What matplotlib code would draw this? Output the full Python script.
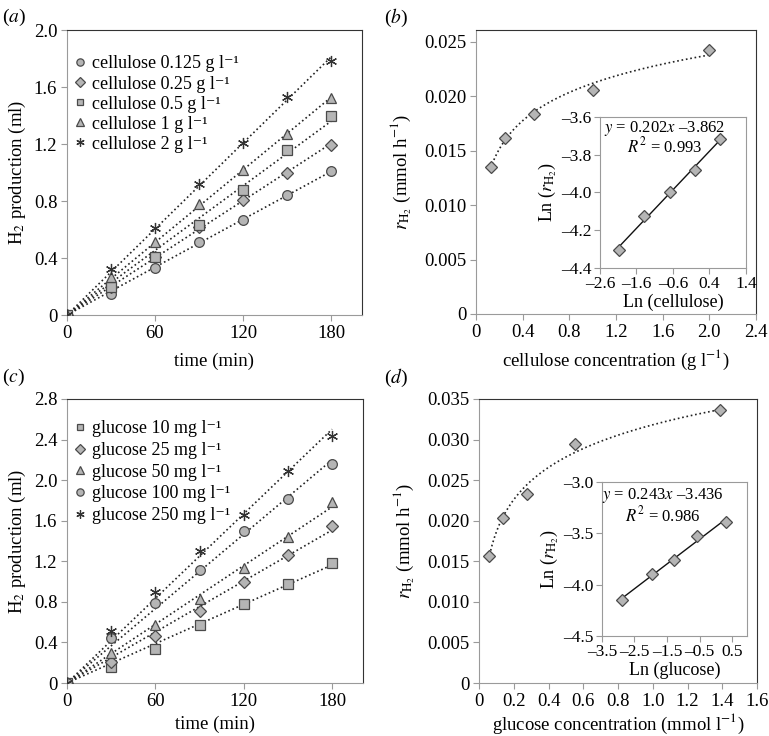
import numpy as np
import matplotlib
matplotlib.use("Agg")
import matplotlib.pyplot as plt
from matplotlib.ticker import FuncFormatter

plt.rcParams['font.family'] = ['Liberation Serif', 'DejaVu Serif']
plt.rcParams['mathtext.fontset'] = 'stix'
plt.rcParams['font.size'] = 13.5

# --- data ---
time_min = [0, 30, 60, 90, 120, 150, 180]

cellulose_labels = ['cellulose 0.125 g l\u207b\u00b9', 'cellulose 0.25 g l\u207b\u00b9',
                    'cellulose 0.5 g l\u207b\u00b9', 'cellulose 1 g l\u207b\u00b9',
                    'cellulose 2 g l\u207b\u00b9']
cel_0125 = [0, 0.15, 0.33, 0.51, 0.67, 0.84, 1.01]
cel_025 = [0, 0.20, 0.41, 0.62, 0.81, 1.00, 1.19]
cel_05 = [0, 0.20, 0.41, 0.63, 0.88, 1.16, 1.40]
cel_1 = [0, 0.27, 0.51, 0.78, 1.02, 1.27, 1.52]
cel_2 = [0, 0.32, 0.61, 0.92, 1.21, 1.53, 1.78]

glucose_labels = ['glucose 10 mg l\u207b\u00b9', 'glucose 25 mg l\u207b\u00b9',
                  'glucose 50 mg l\u207b\u00b9', 'glucose 100 mg l\u207b\u00b9',
                  'glucose 250 mg l\u207b\u00b9']
glu_10 = [0, 0.16, 0.34, 0.57, 0.78, 0.98, 1.18]
glu_25 = [0, 0.21, 0.46, 0.71, 1.00, 1.26, 1.55]
glu_50 = [0, 0.30, 0.57, 0.83, 1.13, 1.44, 1.78]
glu_100 = [0, 0.44, 0.79, 1.11, 1.50, 1.81, 2.16]
glu_250 = [0, 0.51, 0.90, 1.30, 1.66, 2.09, 2.44]

cellulose_conc = [0.125, 0.25, 0.5, 1.0, 2.0]          # g/l
cellulose_rate = [0.0135, 0.0162, 0.0184, 0.0206, 0.0243]  # mmol/h
cellulose_eq = ['$y$ = 0.202$x$ \u20133.862', '$R^2$ = 0.993']

glucose_conc = [0.0555, 0.139, 0.278, 0.555, 1.388]     # mmol/l
glucose_rate = [0.0157, 0.0203, 0.0233, 0.0295, 0.0336]
glucose_eq = ['$y$ = 0.243$x$ \u20133.436', '$R^2$ = 0.986']

FILL = '#b5b5b5'
EDGE = '#4a4a4a'


def style_axes(ax, inset=False):
    for side in ['left', 'bottom']:
        ax.spines[side].set_color('#9a9a9a')
    for side in ['top', 'right']:
        ax.spines[side].set_color('#9a9a9a' if inset else '#333333')
    ax.tick_params(direction='out', length=4, color='#9a9a9a', width=0.8, pad=3)
    if inset:
        ax.tick_params(labelsize=12.5, pad=2)


def zero_fmt(fmt):
    return FuncFormatter(lambda v, p: '0' if abs(v) < 1e-12 else (fmt % v).replace('-', '\u2013'))


def plot_time_course(ax, series, labels, markers, ylim, yticks, xpad):
    t = np.array(time_min)
    sizes = {'o': 7, 'D': 6.3, 's': 6.5, '^': 7.5}
    for y, lab, m in zip(series, labels, markers):
        y = np.array(y)
        slope = np.sum(t * y) / np.sum(t * t)
        ax.plot([0, 180], [0, slope * 180], ls=':', color='#222222', lw=1.2, zorder=1)
        if m == 'star':
            ax.plot(t, y, ls='none', marker=(6, 2, 0), ms=8, mew=0.9, color='#333333',
                    label=lab, zorder=3)
        else:
            ax.plot(t, y, ls='none', marker=m, ms=sizes[m], mfc=FILL,
                    mec=EDGE, mew=0.9, label=lab, zorder=3)
    ax.set_xlim(0, 201)
    ax.set_ylim(*ylim)
    ax.set_xticks([0, 60, 120, 180])
    ax.set_yticks(yticks)
    ax.yaxis.set_major_formatter(zero_fmt('%.1f'))
    ax.set_xlabel('time (min)', labelpad=xpad)
    ax.set_ylabel('H$_2$ production (ml)', labelpad=4)
    style_axes(ax)


def plot_rate(ax, conc, rate, xlim, xticks, ylim, yticks, xlabel, xpad):
    # logarithmic trend line  y = a ln(x) + b
    a, b = np.polyfit(np.log(conc), rate, 1)
    xs = np.linspace(conc[0], conc[-1], 200)
    ax.plot(xs, a * np.log(xs) + b, ls=':', color='#222222', lw=1.2, zorder=1)
    ax.plot(conc, rate, ls='none', marker='D', ms=6.5, mfc=FILL, mec=EDGE, mew=0.9, zorder=3)
    ax.set_xlim(*xlim)
    ax.set_ylim(*ylim)
    ax.set_xticks(xticks)
    ax.set_yticks(yticks)
    ax.xaxis.set_major_formatter(zero_fmt('%.1f'))
    ax.yaxis.set_major_formatter(zero_fmt('%.3f'))
    ax.set_xlabel(xlabel, labelpad=xpad)
    ax.set_ylabel(r'$r_{\mathrm{H}_2}$ (mmol h$^{-1}$)', labelpad=7)
    style_axes(ax)


def plot_inset(ax, conc, rate, eq, xlim, xticks, ylim, yticks, xlabel, txt_pos):
    lx = np.log(conc)
    ly = np.log(rate)
    a, b = np.polyfit(lx, ly, 1)
    ax.plot([lx[0], lx[-1]], [a * lx[0] + b, a * lx[-1] + b], color='#111111', lw=1.0, zorder=1)
    ax.plot(lx, ly, ls='none', marker='D', ms=6.5, mfc=FILL, mec=EDGE, mew=0.9, zorder=3)
    ax.set_xlim(*xlim)
    ax.set_ylim(*ylim)
    ax.set_xticks(xticks)
    ax.set_yticks(yticks)
    ax.xaxis.set_major_formatter(zero_fmt('%.1f'))
    ax.yaxis.set_major_formatter(zero_fmt('%.1f'))
    ax.set_xlabel(xlabel, labelpad=1, fontsize=13)
    ax.set_ylabel(r'Ln ($r_{\mathrm{H}_2}$)', labelpad=2, fontsize=13)
    style_axes(ax, inset=True)
    tx, ty1, ty2 = txt_pos
    ax.text(tx, ty1, eq[0], transform=ax.transAxes, ha='center', va='center', fontsize=12)
    ax.text(tx, ty2, eq[1], transform=ax.transAxes, ha='center', va='center', fontsize=12)


fig = plt.figure(figsize=(7.69, 7.36), dpi=100)

ax_a = fig.add_axes([0.0871, 0.5720, 0.3836, 0.3872])
plot_time_course(ax_a, [cel_0125, cel_025, cel_05, cel_1, cel_2], cellulose_labels,
                 ['o', 'D', 's', '^', 'star'], (0, 2.0), np.arange(0, 2.01, 0.4), 8)
ax_a.legend(loc='upper left', bbox_to_anchor=(-0.02, 0.955), frameon=False, markerscale=0.75,
            handlelength=0.7, handletextpad=0.3, labelspacing=0.17, borderaxespad=0.3,
            fontsize=13)

ax_c = fig.add_axes([0.0871, 0.0720, 0.3849, 0.3859])
plot_time_course(ax_c, [glu_10, glu_25, glu_50, glu_100, glu_250], glucose_labels,
                 ['s', 'D', '^', 'o', 'star'], (0, 2.8), np.arange(0, 2.81, 0.4), 4)
ax_c.legend(loc='upper left', bbox_to_anchor=(-0.02, 0.97), frameon=False, markerscale=0.75,
            handlelength=0.7, handletextpad=0.3, labelspacing=0.26, borderaxespad=0.3,
            fontsize=13)

ax_b = fig.add_axes([0.6190, 0.5734, 0.3641, 0.3859])
plot_rate(ax_b, cellulose_conc, cellulose_rate, (0, 2.4),
          np.arange(0, 2.41, 0.4), (0, 0.0261), np.arange(0, 0.0251, 0.005),
          'cellulose concentration (g l$^{-1}$)', 5)
ax_bi = fig.add_axes([0.7802, 0.6359, 0.1899, 0.2052])
plot_inset(ax_bi, cellulose_conc, cellulose_rate, cellulose_eq, (-2.6, 1.4),
           [-2.6, -1.6, -0.6, 0.4, 1.4], (-4.4, -3.6), [-4.4, -4.2, -4.0, -3.8, -3.6],
           'Ln (cellulose)', (0.445, 0.925, 0.805))

ax_d = fig.add_axes([0.6229, 0.0720, 0.3615, 0.3859])
plot_rate(ax_d, glucose_conc, glucose_rate, (0, 1.6),
          np.arange(0, 1.61, 0.2), (0, 0.035), np.arange(0, 0.0351, 0.005),
          'glucose concentration (mmol l$^{-1}$)', 1.5)
ax_di = fig.add_axes([0.7828, 0.1359, 0.1886, 0.2092])
plot_inset(ax_di, glucose_conc, glucose_rate, glucose_eq, (-3.5, 0.96),
           [-3.5, -2.5, -1.5, -0.5, 0.5], (-4.5, -3.0), [-4.5, -4.0, -3.5, -3.0],
           'Ln (glucose)', (0.42, 0.91, 0.785))

for lab, x, y in [('a', 0.003, 0.99), ('b', 0.499, 0.99), ('c', 0.003, 0.502), ('d', 0.499, 0.502)]:
    fig.text(x, y, '($%s$)' % lab, ha='left', va='top', fontsize=14)

fig.savefig('out.png', dpi=100)
